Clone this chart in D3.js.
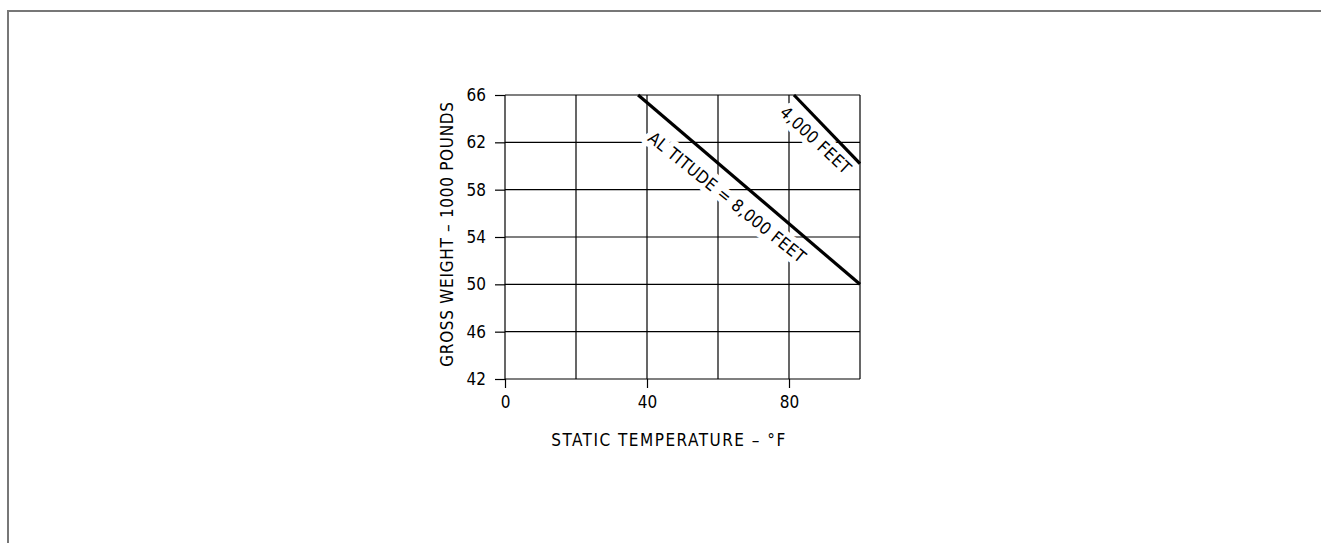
<!DOCTYPE html>
<html>
<head>
<meta charset="utf-8">
<script src="https://cdn.jsdelivr.net/npm/d3@7"></script>
<style>
  html, body { margin: 0; padding: 0; background: #fff; }
  svg { display: block; }
  text { font-family: "Liberation Sans Narrow", "DejaVu Sans Condensed", "Liberation Sans", sans-serif; }
</style>
</head>
<body>
<svg id="chart" width="1321" height="543"></svg>
<script>
// ---- data ----
const xTickValues = [0, 40, 80];
const xGridValues = [0, 20, 40, 60, 80, 100];
const yTickValues = [42, 46, 50, 54, 58, 62, 66];
const xTitle = "STATIC TEMPERATURE \u2013 \u00B0F";
const yTitle = "GROSS WEIGHT \u2013 1000 POUNDS";
const alt8000 = [{ t: 37.5, w: 66 }, { t: 100, w: 50 }];
const alt4000 = [{ t: 81.4, w: 66 }, { t: 100, w: 60.2 }];
const label8000 = "AL TITUDE = 8,000 FEET";
const label4000 = "4,000 FEET";

// ---- layout ----
const svg = d3.select("#chart");
const x = d3.scaleLinear().domain([0, 100]).range([505, 860]);
const y = d3.scaleLinear().domain([42, 66]).range([379, 95]);

// outer frame (top + left edges)
svg.append("path")
  .attr("d", "M8,543 L8,11 L1321,11")
  .attr("fill", "none").attr("stroke", "#777").attr("stroke-width", 2);

const g = svg.append("g");

// grid
g.selectAll("line.vg").data(xGridValues).enter().append("line")
  .attr("x1", d => x(d)).attr("x2", d => x(d))
  .attr("y1", y(42)).attr("y2", y(66))
  .attr("stroke", "#000").attr("stroke-width", 1.2);
g.selectAll("line.hg").data(yTickValues).enter().append("line")
  .attr("x1", x(0)).attr("x2", x(100))
  .attr("y1", d => y(d)).attr("y2", d => y(d))
  .attr("stroke", "#000").attr("stroke-width", 1.2);

// axes
const yAxis = g.append("g").attr("transform", `translate(${x(0)},0)`)
  .call(d3.axisLeft(y).tickValues(yTickValues).tickSize(10).tickPadding(9).tickFormat(d3.format("d")));
const xAxis = g.append("g").attr("transform", `translate(0,${y(42)})`)
  .call(d3.axisBottom(x).tickValues(xTickValues).tickSize(9).tickPadding(8).tickFormat(d3.format("d")));
[yAxis, xAxis].forEach(a => {
  a.select(".domain").remove();
  a.selectAll(".tick line").attr("stroke", "#000").attr("stroke-width", 1.2);
  a.selectAll(".tick text").attr("font-size", 17).attr("fill", "#000")
    .style("font-family", '"Liberation Sans Narrow", "DejaVu Sans Condensed", sans-serif');
});

// titles
g.append("text").attr("x", 669).attr("y", 446).attr("text-anchor", "middle")
  .attr("font-size", 17).attr("letter-spacing", 1.5).attr("fill", "#000").text(xTitle);
g.append("text").attr("transform", "translate(453,234) rotate(-90)").attr("text-anchor", "middle")
  .attr("font-size", 17).attr("letter-spacing", 0.7).attr("fill", "#000").text(yTitle);

// altitude lines + labels
const lineGen = d3.line().x(d => x(d.t)).y(d => y(d.w));
function altitude(data, label, frac, offset, angAdj) {
  const p0 = [x(data[0].t), y(data[0].w)], p1 = [x(data[1].t), y(data[1].w)];
  const dx = p1[0] - p0[0], dy = p1[1] - p0[1], len = Math.hypot(dx, dy);
  const ux = dx / len, uy = dy / len, nx = -uy, ny = ux;
  const cx = p0[0] + ux * len * frac + nx * offset;
  const cy = p0[1] + uy * len * frac + ny * offset;
  const ang = Math.atan2(dy, dx) * 180 / Math.PI + angAdj;
  g.append("text")
    .attr("transform", `translate(${cx},${cy}) rotate(${ang})`)
    .attr("text-anchor", "middle").attr("dominant-baseline", "central")
    .attr("font-size", 17).attr("letter-spacing", 0.4)
    .attr("fill", "#000")
    .attr("stroke", "#fff").attr("stroke-width", 11).attr("paint-order", "stroke")
    .attr("stroke-linejoin", "round")
    .text(label);
  g.append("path").datum(data).attr("d", lineGen)
    .attr("fill", "none").attr("stroke", "#000").attr("stroke-width", 3.2);
}
altitude(alt8000, label8000, 0.46, 20, -1.5);
altitude(alt4000, label4000, 0.5, 15.5, -3);
</script>
</body>
</html>
